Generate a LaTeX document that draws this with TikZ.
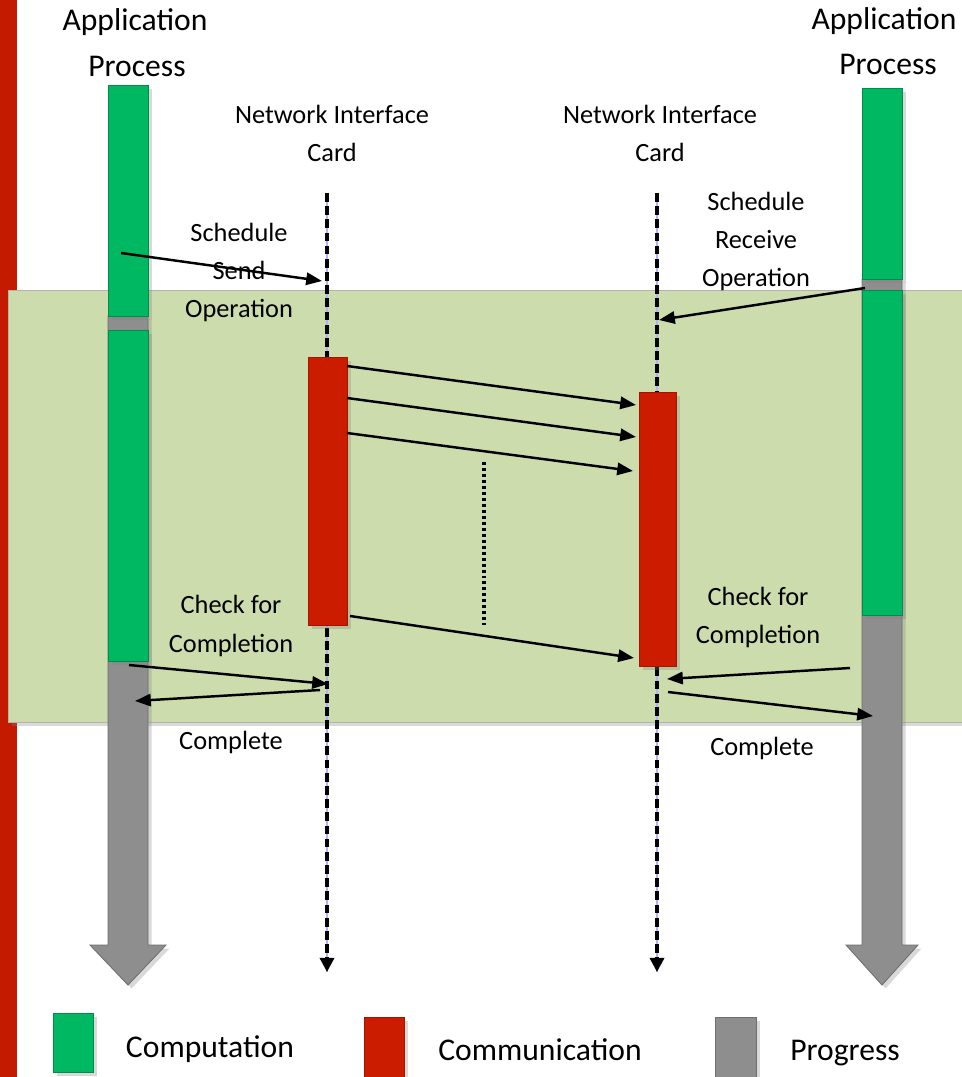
\documentclass[tikz,border=0pt]{standalone}
\usepackage{fontspec}
\setmainfont{Carlito}
\usetikzlibrary{arrows.meta,shadows}
\definecolor{compgreen}{RGB}{0,184,98}
\definecolor{compedge}{RGB}{0,140,75}
\definecolor{commred}{RGB}{204,28,0}
\definecolor{commedge}{RGB}{160,22,0}
\definecolor{proggray}{RGB}{142,142,142}
\definecolor{progedge}{RGB}{110,110,110}
\definecolor{bandgreen}{RGB}{205,220,172}
\definecolor{sidered}{RGB}{196,26,0}
\begin{document}
\begin{tikzpicture}[x=0.02cm,y=-0.02cm,
  lbl/.style={font=\fontsize{15}{18}\selectfont,anchor=base},
  big/.style={font=\fontsize{18}{22}\selectfont,anchor=base},
  comp/.style={fill=compgreen,draw=compedge,line width=.5pt},
  comm/.style={fill=commred,draw=commedge,line width=.5pt},
  prog/.style={fill=proggray,draw=progedge,line width=.5pt},
  shade/.style={drop shadow={shadow xshift=2pt,shadow yshift=-2pt,opacity=.3}},
  msg/.style={line width=1.4pt,-{Triangle[length=9pt,width=7pt]}},
  life/.style={line width=1.8pt,dash pattern=on 5pt off 2.5pt,-{Triangle[length=8pt,width=8pt]}}]
  \useasboundingbox (0,0) rectangle (961,1077);
  \fill[sidered] (0,0) rectangle (17,1077);
  \filldraw[fill=bandgreen,draw=black!30,shade] (8,290) rectangle (980,722);
  % application processes
  \filldraw[prog,shade] (108,316)--(148,316)--(148,945)--(166,945)--(128,985)--(90,945)--(108,945)--cycle;
  \filldraw[comp,shade] (108,85) rectangle (148,316);
  \filldraw[comp,shade] (108,330) rectangle (148,661);
  \filldraw[prog,shade] (862,279)--(902,279)--(902,945)--(918,945)--(882,985)--(846,945)--(862,945)--cycle;
  \filldraw[comp,shade] (862,88) rectangle (902,279);
  \filldraw[comp,shade] (862,290) rectangle (902,615);
  % network interface cards
  \coordinate (nicAtop) at (327,193); \coordinate (nicAend) at (327,972);
  \coordinate (nicBtop) at (657,193); \coordinate (nicBend) at (657,972);
  \draw[blue!30,line width=.6pt] (nicAtop)--(nicAend);
  \draw[blue!30,line width=.6pt] (nicBtop)--(nicBend);
  \draw[life] (nicAtop)--(nicAend);
  \draw[life] (nicBtop)--(nicBend);
  \filldraw[comm,shade] (308,357) rectangle (347,625);
  \filldraw[comm,shade] (639,392) rectangle (676,666);
  % messages
  \coordinate (sendS) at (121,253); \coordinate (sendE) at (322,281);
  \coordinate (recvS) at (865,288); \coordinate (recvE) at (659,320);
  \draw[msg] (sendS)--(sendE);
  \draw[msg] (recvS)--(recvE);
  \coordinate (pkA) at (347,366); \coordinate (pkAe) at (636,405);
  \coordinate (pkB) at (347,398); \coordinate (pkBe) at (636,437);
  \coordinate (pkC) at (347,433); \coordinate (pkCe) at (633,471);
  \coordinate (pkD) at (350,616); \coordinate (pkDe) at (634,658);
  \draw[msg] (pkA)--(pkAe);
  \draw[msg] (pkB)--(pkBe);
  \draw[msg] (pkC)--(pkCe);
  \draw[msg] (pkD)--(pkDe);
  \coordinate (dotT) at (484,462); \coordinate (dotB) at (484,625);
  \draw[line width=1.8pt,dash pattern=on 1.7pt off 1.7pt] (dotT)--(dotB);
  \coordinate (chkL) at (129,665); \coordinate (chkLe) at (328,684);
  \coordinate (cplL) at (320,690); \coordinate (cplLe) at (135,701);
  \draw[msg] (chkL)--(chkLe);
  \draw[msg] (cplL)--(cplLe);
  \coordinate (chkR) at (850,668); \coordinate (chkRe) at (667,679);
  \coordinate (cplR) at (668,692); \coordinate (cplRe) at (873,716);
  \draw[msg] (chkR)--(chkRe);
  \draw[msg] (cplR)--(cplRe);
  % labels
  \node[big] (appL1) at (135,31) {Application};
  \node[big] (appL2) at (137,77) {Process};
  \node[big] (appR1) at (884,30) {Application};
  \node[big] (appR2) at (888,75) {Process};
  \node[lbl] (nicA1) at (332,124) {Network Interface};
  \node[lbl] (nicA2) at (332,162) {Card};
  \node[lbl] (nicB1) at (660,124) {Network Interface};
  \node[lbl] (nicB2) at (660,162) {Card};
  \node[lbl] (sch1) at (239,242) {Schedule};
  \node[lbl] (sch2) at (239,280) {Send};
  \node[lbl] (sch3) at (239,318) {Operation};
  \node[lbl] (rcv1) at (756,211) {Schedule};
  \node[lbl] (rcv2) at (756,249) {Receive};
  \node[lbl] (rcv3) at (756,287) {Operation};
  \node[lbl] (ckL1) at (231,613) {Check for};
  \node[lbl] (ckL2) at (231,652) {Completion};
  \node[lbl] (doneL) at (231,749) {Complete};
  \node[lbl] (ckR1) at (758,605) {Check for};
  \node[lbl] (ckR2) at (758,643) {Completion};
  \node[lbl] (doneR) at (762,755) {Complete};
  % legend
  \filldraw[comp,shade] (53,1013) rectangle (93,1072);
  \node[big,anchor=base,inner sep=0pt] (lgComp) at (210,1057) {Computation};
  \filldraw[comm,shade] (364,1017) rectangle (404,1080);
  \node[big,anchor=base,inner sep=0pt] (lgComm) at (540,1060) {Communication};
  \filldraw[prog,shade] (715,1017) rectangle (756,1080);
  \node[big,anchor=base,inner sep=0pt] (lgProg) at (845,1060) {Progress};
\end{tikzpicture}
\end{document}
